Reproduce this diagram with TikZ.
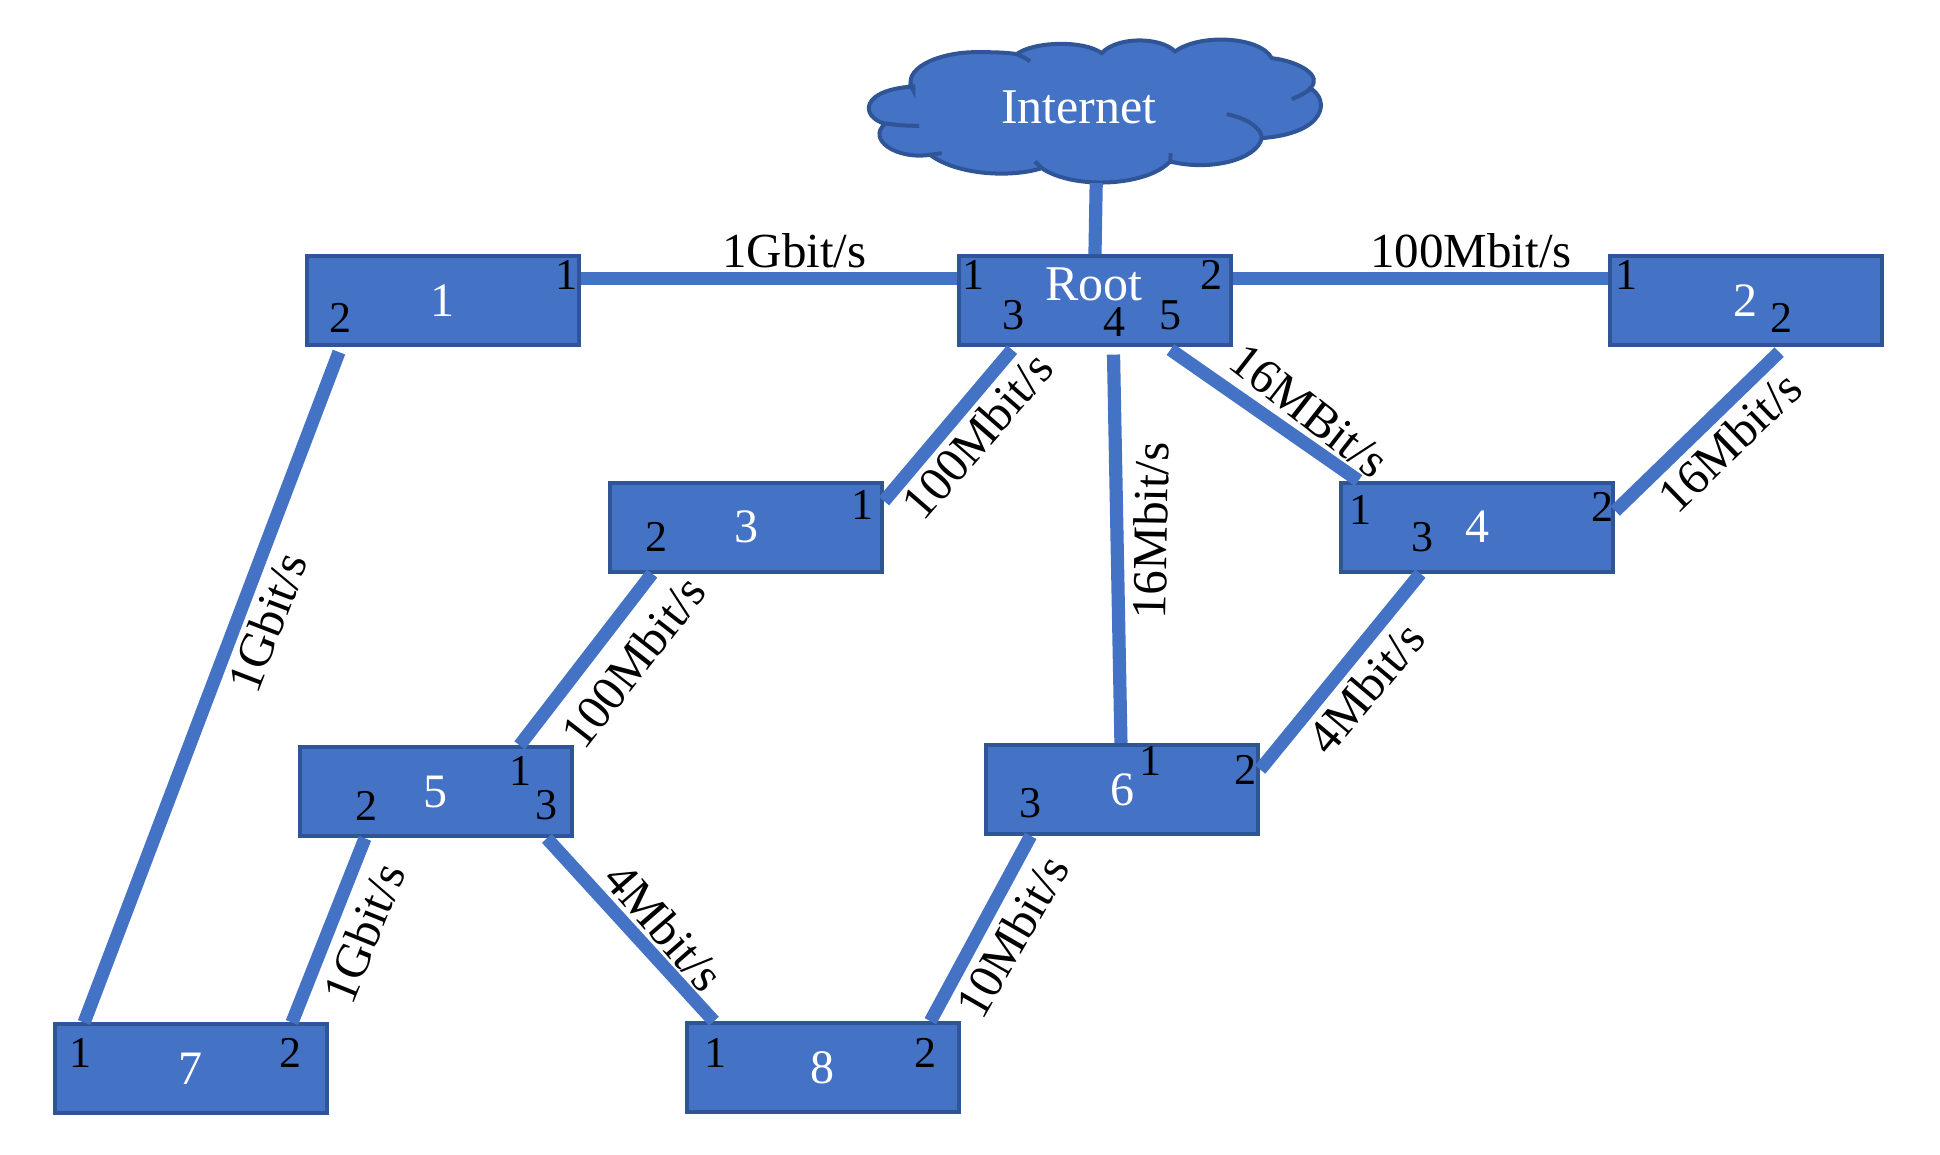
\documentclass[tikz,border=0pt]{standalone}
\usepackage{fontspec}
\setmainfont{Liberation Serif}
\usepackage{tikz}
\usepackage{xcolor}
\usetikzlibrary{calc}
\definecolor{cLink}  {HTML}{4472C4}
\definecolor{cEdge}  {HTML}{2F5597}
\tikzset{
  swbox/.style={draw=cEdge, fill=cLink, line width=2pt, minimum width=136pt, minimum height=44.5pt,
                inner sep=0pt, text=white, font=\fontsize{24}{28}\selectfont},
  link/.style={draw=cLink, line width=6.6pt},
  port/.style={font=\fontsize{22}{26}\selectfont, inner sep=0pt, text=black, xshift=0.6pt},
  rate/.style={font=\fontsize{24.5}{28}\selectfont, inner sep=0pt, text=black},
}
\begin{document}
\begin{tikzpicture}[x=0.6186pt, y=-0.6186pt]
  \useasboundingbox (0,0) rectangle (1568,933);
  % cloud, traced in the coordinates of a 3x crop
  \begin{scope}[shift={(687,16)}, x=0.1667pt, y=-0.1667pt]
    \draw[fill=cLink, draw=cEdge, line width=2pt]
      (190,212) .. controls (150,150) and (260,97) .. (380,97)
      .. controls (430,97) and (470,98) .. (500,103)
      .. controls (550,65) and (700,60) .. (755,100)
      .. controls (800,50) and (930,50) .. (975,95)
      .. controls (1050,40) and (1230,50) .. (1265,115)
      .. controls (1350,125) and (1420,170) .. (1380,205)
      .. controls (1440,240) and (1430,340) .. (1235,355)
      .. controls (1220,420) and (1080,455) .. (960,425)
      .. controls (890,500) and (670,510) .. (575,445)
      .. controls (480,475) and (320,465) .. (240,405)
      .. controls (140,420) and (50,360) .. (105,312)
      .. controls (30,290) and (30,210) .. (190,200) -- cycle;
    \draw[draw=cEdge, line width=2pt] (500,103) .. controls (515,110) and (530,115) .. (540,125);
    \draw[draw=cEdge, line width=2pt] (1385,205) .. controls (1365,220) and (1345,230) .. (1325,238);
    \draw[draw=cEdge, line width=2pt] (1130,283) .. controls (1190,295) and (1235,325) .. (1235,355);
    \draw[draw=cEdge, line width=2pt] (962,400) -- (960,425);
    \draw[draw=cEdge, line width=2pt] (555,425) -- (575,445);
    \draw[draw=cEdge, line width=2pt] (275,400) -- (240,405);
    \draw[draw=cEdge, line width=2pt] (105,310) .. controls (135,316) and (170,318) .. (207,318);
    \draw[draw=cEdge, line width=2pt] (190,212) -- (180,190);
  \end{scope}
  \coordinate (cloudb) at (886,148);
  \node[font=\fontsize{25}{28}\selectfont, text=white, inner sep=0pt] (internet) at (872,87) {Internet};

  \node[swbox] (root) at (885,243) {};
  \node[swbox] (sw1) at (358,243) {1};
  \node[swbox] (sw2) at (1411,243) {2};
  \node[swbox] (sw3) at (603,426) {3};
  \node[swbox] (sw4) at (1194,426) {4};
  \node[swbox] (sw5) at (352,640) {5};
  \node[swbox] (sw6) at (907,638) {6};
  \node[swbox] (sw7) at (154,864) {7};
  \node[swbox] (sw8) at (665,863) {8};
  \node[font=\fontsize{25}{28}\selectfont, text=white, inner sep=0pt] (rootname) at (884,230) {Root};

  \draw[link] (cloudb) -- (root.north);
  \draw[link] ($(sw1.east)+(0,-18)$) -- ($(root.west)+(0,-18)$);
  \draw[link] ($(root.east)+(0,-18)$) -- ($(sw2.west)+(0,-18)$);
  \draw[link] ($(sw1.south)+(-84,4)$) -- ($(sw7.north)+(-86,0)$);
  \draw[link] ($(root.south)+(-67,2)$) -- ($(sw3.east)+(0,-21)$);
  \draw[link] ($(root.south)+(15,6)$) -- ($(sw6.north)+(-1,0)$);
  \draw[link] ($(root.south)+(61,2)$) -- ($(sw4.north)+(-96,0)$);
  \draw[link] ($(sw2.south)+(27,4)$) -- ($(sw4.east)+(0,-13)$);
  \draw[link] ($(sw3.south)+(-76,0)$) -- ($(sw5.north)+(68,0)$);
  \draw[link] ($(sw4.south)+(-46,0)$) -- ($(sw6.east)+(0,-16)$);
  \draw[link] ($(sw5.south)+(-57,0)$) -- ($(sw7.north)+(82,0)$);
  \draw[link] ($(sw5.south)+(90,0)$) -- ($(sw8.north)+(-88,0)$);
  \draw[link] ($(sw6.south)+(-74,0)$) -- ($(sw8.north)+(87,0)$);

  % port numbers
  \node[port] (p1a) at (457,222) {1};
  \node[port] (p1b) at (274,257) {2};
  \node[port] (pra) at (786,222) {1};
  \node[port] (prb) at (978,222) {2};
  \node[port] (prc) at (818,255) {3};
  \node[port] (prd) at (900,260) {4};
  \node[port] (pre) at (945,255) {5};
  \node[port] (p2a) at (1314,222) {1};
  \node[port] (p2b) at (1439,257) {2};
  \node[port] (p3a) at (696,408) {1};
  \node[port] (p3b) at (530,434) {2};
  \node[port] (p4a) at (1099,412) {1};
  \node[port] (p4b) at (1294,410) {2};
  \node[port] (p4c) at (1149,434) {3};
  \node[port] (p5a) at (420,623) {1};
  \node[port] (p5b) at (295,651) {2};
  \node[port] (p5c) at (441,651) {3};
  \node[port] (p6a) at (929,615) {1};
  \node[port] (p6b) at (1006,622) {2};
  \node[port] (p6c) at (832,649) {3};
  \node[port] (p7a) at (64,851) {1};
  \node[port] (p7b) at (234,851) {2};
  \node[port] (p8a) at (577,851) {1};
  \node[port] (p8b) at (747,851) {2};

  % link rates
  \node[rate] (r1) at (642,203) {1Gbit/s};
  \node[rate] (r2) at (1189,203) {100Mbit/s};
  \node[rate, rotate=49] (r3) at (790,352) {100Mbit/s};
  \node[rate, rotate=89] (r4) at (930,429) {16Mbit/s};
  \node[rate, rotate=-38] (r5) at (1058,332) {16MBit/s};
  \node[rate, rotate=44] (r6) at (1398,357) {16Mbit/s};
  \node[rate, rotate=69] (r7) at (216,503) {1Gbit/s};
  \node[rate, rotate=52] (r8) at (512,535) {100Mbit/s};
  \node[rate, rotate=50] (r9) at (1104,556) {4Mbit/s};
  \node[rate, rotate=68] (r10) at (294,754) {1Gbit/s};
  \node[rate, rotate=-49] (r11) at (537,749) {4Mbit/s};
  \node[rate, rotate=60] (r12) at (818,757) {10Mbit/s};
\end{tikzpicture}
\end{document}
